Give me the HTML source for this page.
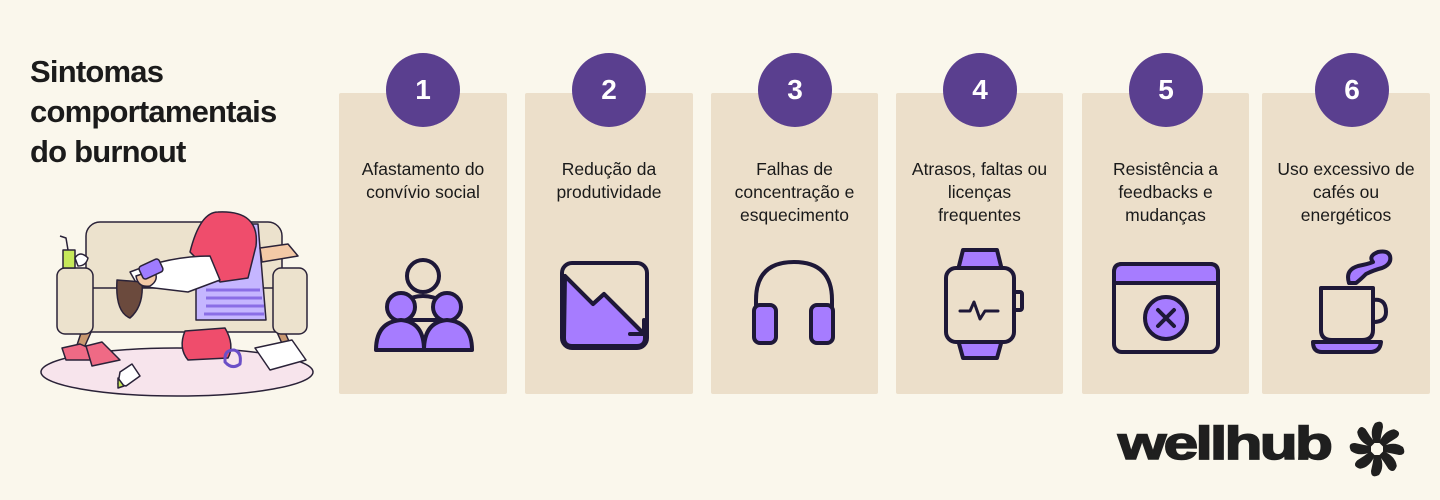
<!DOCTYPE html>
<html><head><meta charset="utf-8"><style>
body{margin:0;width:1440px;height:500px;background:#faf7ec;position:relative;overflow:hidden;font-family:"Liberation Sans Narrow","Liberation Sans",sans-serif;}
.title{position:absolute;left:30px;top:52px;font-family:"Liberation Sans",sans-serif;font-weight:bold;font-size:31px;line-height:40px;color:#1b1b1b;letter-spacing:-0.8px;}
.card{position:absolute;top:93px;height:301px;background:#ecdfca;border-radius:2px;}
.num{position:absolute;top:53px;width:74px;height:74px;border-radius:50%;background:#5a3f8f;color:#fff;font-family:"Liberation Sans",sans-serif;font-weight:bold;font-size:28px;text-align:center;line-height:74px;}
.txt{position:absolute;top:158px;text-align:center;font-size:17.5px;line-height:23px;color:#1a1a1a;}
svg{position:absolute;}
</style></head><body>
<div class="title">Sintomas<br>comportamentais<br>do burnout</div>

<div class="card" style="left:339px;width:168px"></div>
<div class="card" style="left:525px;width:168px"></div>
<div class="card" style="left:711px;width:167px"></div>
<div class="card" style="left:896px;width:167px"></div>
<div class="card" style="left:1082px;width:167px"></div>
<div class="card" style="left:1262px;width:168px"></div>

<div class="num" style="left:386px">1</div>
<div class="num" style="left:572px">2</div>
<div class="num" style="left:758px">3</div>
<div class="num" style="left:943px">4</div>
<div class="num" style="left:1129px">5</div>
<div class="num" style="left:1315px">6</div>

<div class="txt" style="left:339px;width:168px">Afastamento do<br>convívio social</div>
<div class="txt" style="left:525px;width:168px">Redução da<br>produtividade</div>
<div class="txt" style="left:711px;width:167px">Falhas de<br>concentração e<br>esquecimento</div>
<div class="txt" style="left:896px;width:167px">Atrasos, faltas ou<br>licenças<br>frequentes</div>
<div class="txt" style="left:1082px;width:167px">Resistência a<br>feedbacks e<br>mudanças</div>
<div class="txt" style="left:1262px;width:168px">Uso excessivo de<br>cafés ou<br>energéticos</div>

<svg width="1440" height="500" style="left:0;top:0" fill="none" stroke="#1e1838" stroke-width="4" stroke-linejoin="round" stroke-linecap="round">
 <circle cx="423" cy="276" r="16" fill="#ecdfca"/>
 <path d="M402 302 Q423 290 444 302 L444 320 L402 320 Z" fill="#ecdfca"/>
 <circle cx="401" cy="307" r="14" fill="#a67cff"/>
 <path d="M376 350 Q376 322 401 320 Q424 322 424 350 Z" fill="#a67cff"/>
 <circle cx="447" cy="307" r="14" fill="#a67cff"/>
 <path d="M424 350 Q424 322 447 320 Q472 322 472 350 Z" fill="#a67cff"/>
 <rect x="562" y="263" width="85" height="85" rx="10" fill="#ecdfca"/>
 <path d="M565 276 L593 304 L604 294 L645 335 L645 338 Q645 346 637 346 L572 346 Q564 346 564 338 Z" fill="#a67cff"/>
 <path d="M565 276 L593 304 L604 294 L644 334 M644 320 L644 334 L630 334"/>
 <path d="M756 312 L756 300 Q756 262 794 262 Q832 262 832 300 L832 312"/>
 <rect x="754" y="305" width="22" height="38" rx="6" fill="#a67cff"/>
 <rect x="811" y="305" width="22" height="38" rx="6" fill="#a67cff"/>
 <path d="M958 270 L963 250 L997 250 L1002 270 M958 340 L963 358 L997 358 L1002 340" fill="#a67cff"/>
 <rect x="946" y="268" width="68" height="74" rx="10" fill="#ecdfca"/>
 <rect x="1014" y="292" width="8" height="18" rx="2"/>
 <path d="M960 311 L970 311 L974 302 L980 319 L985 311 L998 311" stroke-width="3"/>
 <rect x="1114" y="264" width="104" height="88" rx="8" fill="#ecdfca"/>
 <path d="M1114 283 L1114 272 Q1114 264 1122 264 L1210 264 Q1218 264 1218 272 L1218 283 Z" fill="#a67cff"/>
 <circle cx="1166" cy="318" r="21" fill="#a67cff"/>
 <path d="M1158 310 L1174 326 M1174 310 L1158 326"/>
 <path d="M1349 283 Q1345 270 1358 266 Q1368 264 1373 262 Q1368 256 1378 252 Q1388 250 1390 256 Q1392 264 1382 268 Q1374 270 1366 274 Q1360 280 1356 283 Z" fill="#a67cff"/>
 <path d="M1321 288 L1373 288 L1373 330 Q1373 340 1362 340 L1332 340 Q1321 340 1321 330 Z" fill="#ecdfca"/>
 <path d="M1373 300 Q1386 298 1386 312 Q1386 322 1373 322"/>
 <path d="M1313 342 L1381 342 Q1380 352 1370 352 L1322 352 Q1313 352 1313 342 Z" fill="#a67cff"/>
</svg>

<svg width="320" height="210" style="left:20px;top:200px" stroke="#2a2238" stroke-width="1.5" stroke-linejoin="round">
 <ellipse cx="157" cy="172" rx="136" ry="24" fill="#f7e4ec"/>
 <path d="M62 130 L56 148 L64 148 L72 130Z M256 130 L264 148 L272 148 L264 130Z" fill="#c99870"/>
 <rect x="66" y="22" width="196" height="72" rx="14" fill="#ece2cd"/>
 <rect x="66" y="88" width="200" height="44" rx="6" fill="#ece2cd"/>
 <rect x="37" y="68" width="36" height="66" rx="8" fill="#ece2cd"/>
 <rect x="253" y="68" width="34" height="66" rx="8" fill="#ece2cd"/>
 <path d="M190 24 L238 24 L246 120 L176 120 L176 88Z" fill="#c5b6ff"/>
 <path d="M186 90 L240 90 M186 98 L242 98 M186 106 L244 106 M184 114 L244 114" stroke="#8a6ee6" stroke-width="3"/>
 <path d="M170 52 Q180 12 198 12 Q240 10 236 46 L228 78 L200 82 Z" fill="#ef4d6c"/>
 <path d="M240 48 L268 44 L278 56 L242 62Z" fill="#f3c9a6"/>
 <path d="M110 72 Q150 56 190 56 L200 80 L168 92 L118 86Z" fill="#fff"/>
 <path d="M97 80 Q95 112 110 118 Q124 106 122 82 Z" fill="#6b4a3d"/>
 <path d="M116 76 Q118 88 130 86 Q140 80 134 70Z" fill="#f3c9a6"/>
 <rect x="120" y="62" width="22" height="14" rx="3" fill="#9f7cff" transform="rotate(-25 131 69)"/>
 <rect x="43" y="50" width="12" height="18" fill="#c6e85a"/>
 <path d="M48 50 L46 38 L40 36" fill="none"/>
 <path d="M55 58 Q60 50 68 58 Q66 66 58 66Z" fill="#fff"/>
 <path d="M165 131 L205 128 Q215 145 208 158 L168 160 Q158 148 165 131Z" fill="#ef4d6c"/>
 <path d="M205 158 Q205 150 214 150 Q222 152 220 164 Q212 170 205 162Z" fill="none" stroke="#6b4fc7" stroke-width="3"/>
 <path d="M235 148 L272 140 L286 160 L250 170Z" fill="#fff"/>
 <path d="M42 148 L60 144 L78 152 L76 160 L46 160Z" fill="#ef6a85"/>
 <path d="M66 146 L82 142 L100 160 L72 166Z" fill="#ef6a85"/>
 <path d="M100 172 L112 164 L120 176 L106 186 L98 184Z" fill="#fff"/>
 <path d="M98 178 L104 186 L98 188Z" fill="#c6e85a"/>
</svg>

<div style="position:absolute;left:1118px;top:418px;font-family:'Liberation Sans',sans-serif;font-weight:900;font-size:46px;letter-spacing:-2px;color:#1f1f1f;line-height:50px;transform:scaleX(1.35);transform-origin:left;-webkit-text-stroke:1.5px #1f1f1f">wellhub</div>
<svg width="64" height="64" style="left:1346px;top:418px">
 <g transform="translate(31 31)" fill="#1f1f1f">
  <g id="p"><path d="M-3 -6 Q-8 -18 -2 -26 Q6 -30 6 -22 Q4 -14 3 -6 Z"/></g>
  <use href="#p" transform="rotate(45)"/><use href="#p" transform="rotate(90)"/><use href="#p" transform="rotate(135)"/>
  <use href="#p" transform="rotate(180)"/><use href="#p" transform="rotate(225)"/><use href="#p" transform="rotate(270)"/><use href="#p" transform="rotate(315)"/>
 </g>
</svg>
</body></html>
